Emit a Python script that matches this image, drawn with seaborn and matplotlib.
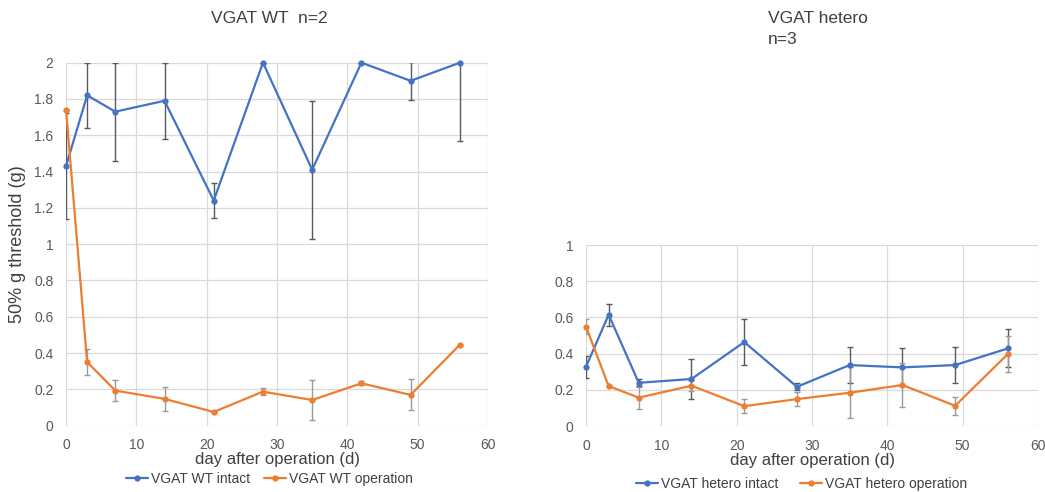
import matplotlib
matplotlib.use("Agg")
import matplotlib.pyplot as plt
import seaborn as sns
import pandas as pd
import numpy as np
from matplotlib.lines import Line2D

days = [0, 3, 7, 14, 21, 28, 35, 42, 49, 56]

wt_intact = [1.43, 1.82, 1.73, 1.79, 1.24, 2.0, 1.41, 2.0, 1.90, 2.0]
wt_intact_err = [0.29, 0.18, 0.27, 0.21, 0.097, 0.0, 0.38, 0.0, 0.105, 0.43]
wt_oper = [1.74, 0.35, 0.193, 0.147, 0.075, 0.187, 0.141, 0.233, 0.169, 0.446]
wt_oper_err = [0.0, 0.07, 0.06, 0.065, 0.0, 0.02, 0.11, 0.01, 0.085, 0.0]

het_intact = [0.328, 0.615, 0.239, 0.26, 0.464, 0.217, 0.337, 0.324, 0.337, 0.429]
het_intact_err = [0.06, 0.06, 0.02, 0.11, 0.125, 0.02, 0.10, 0.105, 0.10, 0.105]
het_oper = [0.549, 0.221, 0.157, 0.223, 0.11, 0.149, 0.184, 0.227, 0.112, 0.398]
het_oper_err = [0.04, 0.0, 0.06, 0.03, 0.04, 0.04, 0.14, 0.12, 0.05, 0.10]

title_wt = "VGAT WT  n=2"
title_het = ["VGAT hetero", "n=3"]
labels_wt = ["VGAT WT intact", "VGAT WT operation"]
labels_het = ["VGAT hetero intact", "VGAT hetero operation"]
xlabel = "day after operation (d)"
ylabel = "50% g threshold (g)"

BLUE = "#4472C4"
ORANGE = "#ED7D31"
GRID = "#d9d9d9"
TICK = "#595959"

sns.set_style("white")
plt.rcParams['font.family'] = ['Liberation Sans', 'DejaVu Sans']

fig = plt.figure(figsize=(10.45, 4.92), dpi=100)
ax1 = fig.add_axes([0.0632, 0.135, 0.4038, 0.7376])
ax2 = fig.add_axes([0.5608, 0.134, 0.4325, 0.368])


def draw(ax, intact, ierr, oper, oerr, labels, ymax, ystep):
    df = pd.DataFrame({
        "day": days * 2,
        "value": intact + oper,
        "group": [labels[0]] * len(days) + [labels[1]] * len(days),
    })
    ax.errorbar(days, intact, yerr=ierr, fmt="none", ecolor="#595959",
                elinewidth=1, capsize=2.5, capthick=1, zorder=2)
    ax.errorbar(days, oper, yerr=oerr, fmt="none", ecolor="#9a9a9a",
                elinewidth=1, capsize=2.5, capthick=1, zorder=2)
    sns.lineplot(data=df, x="day", y="value", hue="group",
                 palette=[BLUE, ORANGE], marker="o", markersize=4.5,
                 markeredgewidth=0, linewidth=1.6, ax=ax, zorder=3,
                 legend=False, clip_on=False)
    ax.set_xlim(0, 60)
    ax.set_ylim(0, ymax)
    ax.set_xticks(np.arange(0, 61, 10))
    yt = np.round(np.arange(0, ymax + 1e-9, ystep), 2)
    ax.set_yticks(yt)
    ax.set_yticklabels([("%g" % v) for v in yt])
    ax.grid(True, color=GRID, linewidth=0.9)
    ax.set_axisbelow(True)
    for s in ax.spines.values():
        s.set_visible(False)
    ax.tick_params(axis="y", length=0, labelsize=10, labelcolor=TICK, pad=9)
    ax.tick_params(axis="x", length=0, labelsize=10, labelcolor=TICK, pad=9)
    ax.set_xlabel(xlabel, fontsize=12, color="#404040", labelpad=0)
    ax.set_ylabel("")
    handles = [Line2D([], [], color=BLUE, marker="o", markersize=3.5, linewidth=1.6),
               Line2D([], [], color=ORANGE, marker="o", markersize=3.5, linewidth=1.6)]
    return handles


h1 = draw(ax1, wt_intact, wt_intact_err, wt_oper, wt_oper_err, labels_wt, 2.0, 0.2)
h2 = draw(ax2, het_intact, het_intact_err, het_oper, het_oper_err, labels_het, 1.0, 0.2)

ax1.set_ylabel(ylabel, fontsize=13, color="#404040", labelpad=6)

fig.text(0.258, 0.963, title_wt, fontsize=12.5, color="#404040", ha="center", va="center")
fig.text(0.735, 0.963, title_het[0], fontsize=12.5, color="#404040", ha="left", va="center")
fig.text(0.735, 0.92, title_het[1], fontsize=12.5, color="#404040", ha="left", va="center")

fig.legend(h1, labels_wt, loc="center", bbox_to_anchor=(0.258, 0.026), ncol=2,
           frameon=False, fontsize=10, handlelength=1.6, handletextpad=0.2,
           columnspacing=1.0, labelcolor="#404040")
fig.legend(h2, labels_het, loc="center", bbox_to_anchor=(0.767, 0.016), ncol=2,
           frameon=False, fontsize=10, handlelength=1.6, handletextpad=0.2,
           columnspacing=1.6, labelcolor="#404040")

fig.savefig("out.png", dpi=100)
